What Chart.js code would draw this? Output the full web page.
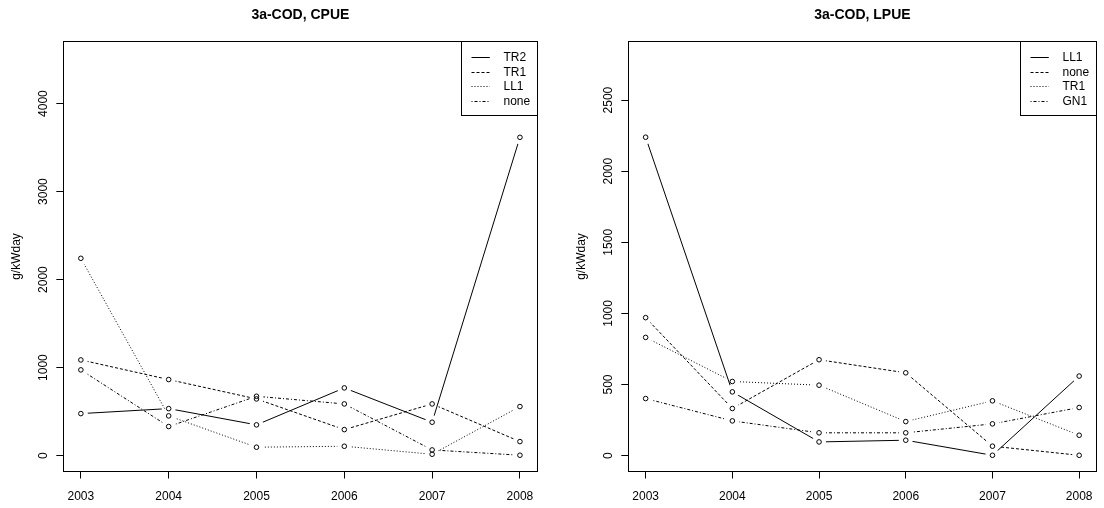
<!DOCTYPE html>
<html>
<head>
<meta charset="utf-8">
<script src="https://cdn.jsdelivr.net/npm/chart.js@4/dist/chart.umd.min.js"></script>
<style>
  body { margin: 0; background: #fff; }
  #wrap { position: relative; width: 1104px; height: 508px; background: #fff; }
  canvas { position: absolute; top: 0; }
</style>
</head>
<body>
<div id="wrap">
  <canvas id="cpue" width="552" height="508" style="left:0"></canvas>
  <canvas id="lpue" width="552" height="508" style="left:552px"></canvas>
</div>
<script>
// years on the x axis
const years = [2003, 2004, 2005, 2006, 2007, 2008];

// left panel: CPUE
const cpueNames = ['TR2', 'TR1', 'LL1', 'none'];
const cpueTR2  = [477, 534, 349, 769, 379, 3617];
const cpueTR1  = [1087, 864, 644, 295, 587, 159];
const cpueLL1  = [2242, 451, 95, 106, 15, 557];
const cpueNone = [974, 330, 674, 587, 64, 4];
const cpueTicks = [0, 1000, 2000, 3000, 4000];

// right panel: LPUE
const lpueNames = ['LL1', 'none', 'TR1', 'GN1'];
const lpueLL1  = [2239, 448, 96, 108, 2, 559];
const lpueNone = [970, 331, 674, 582, 66, 2];
const lpueTR1  = [831, 521, 495, 239, 385, 143];
const lpueGN1  = [401, 244, 160, 160, 223, 338];
const lpueTicks = [0, 500, 1000, 1500, 2000, 2500];

// R line types: solid, dashed, dotted, dotdash
const ltys = [[], [3, 2], [1, 2], [1, 2, 3, 2]];
const FONT = "'Liberation Sans', Arial, sans-serif";
const GAP = 7;

// R-ish frame, labels and legend drawn on top of the chart
const framePlugin = {
  id: 'frame',
  beforeDatasetDraw(chart, args) {
    const ds = chart.data.datasets[args.index];
    if (!ds.gap) return;
    const ctx = chart.ctx;
    ctx.save();
    ctx.beginPath();
    ctx.rect(0, 0, chart.width, chart.height);
    args.meta.data.forEach(p => {
      ctx.moveTo(p.x + GAP, p.y);
      ctx.arc(p.x, p.y, GAP, 0, Math.PI * 2);
    });
    ctx.clip('evenodd');
  },
  afterDatasetDraw(chart, args) {
    if (chart.data.datasets[args.index].gap) chart.ctx.restore();
  },
  afterDraw(chart, args, opts) {
    const ctx = chart.ctx;
    const a = chart.chartArea;
    const px = v => Math.floor(v) + 0.5;
    ctx.save();
    ctx.strokeStyle = '#000';
    ctx.fillStyle = '#000';
    ctx.lineWidth = 1;
    ctx.setLineDash([]);
    ctx.strokeRect(px(a.left), px(a.top), px(a.right) - px(a.left), px(a.bottom) - px(a.top));

    // title
    ctx.font = 'bold 14px ' + FONT;
    ctx.textAlign = 'center';
    ctx.textBaseline = 'middle';
    ctx.fillText(opts.title, (a.left + a.right) / 2, 15);

    // y tick labels, rotated like R
    const ys = chart.scales.y;
    ctx.font = '12px ' + FONT;
    ys.ticks.forEach(t => {
      ctx.save();
      ctx.translate(a.left - 19.5, ys.getPixelForValue(t.value));
      ctx.rotate(-Math.PI / 2);
      ctx.fillText(String(t.value), 0, 0);
      ctx.restore();
    });
    // y axis title
    ctx.save();
    ctx.translate(a.left - 46.5, (a.top + a.bottom) / 2);
    ctx.rotate(-Math.PI / 2);
    ctx.fillText('g/kWday', 0, 0);
    ctx.restore();

    // legend box
    const lw = 75.8, lh = 73.8;
    const lx = px(a.right - lw), ly = px(a.top);
    ctx.strokeRect(lx, ly, px(a.right) - lx, px(a.top + lh) - ly);
    ctx.textAlign = 'left';
    opts.names.forEach((name, i) => {
      const y = Math.round(a.top + 15.5 + i * 14.5) + 0.5;
      ctx.setLineDash(ltys[i]);
      ctx.beginPath();
      ctx.moveTo(lx + 10, y);
      ctx.lineTo(lx + 28.3, y);
      ctx.stroke();
      ctx.setLineDash([]);
      ctx.fillText(name, lx + 42, y);
    });
    ctx.restore();
  }
};

function makeChart(id, title, names, series, yTicks, yMin, yMax, leftW, rightPad) {
  const datasets = [];
  series.forEach((vals, i) => {
    const pts = years.map((x, j) => ({ x: x, y: vals[j] }));
    datasets.push({
      label: names[i],
      data: pts,
      gap: true,
      borderColor: '#000',
      borderWidth: 1,
      borderDash: ltys[i],
      pointRadius: 0,
      tension: 0
    });
    datasets.push({
      label: '',
      data: pts,
      showLine: false,
      pointRadius: 2.3,
      pointBorderWidth: 1,
      pointBorderColor: '#000',
      pointBackgroundColor: 'rgba(0,0,0,0)'
    });
  });

  return new Chart(document.getElementById(id), {
    type: 'line',
    data: { datasets: datasets },
    options: {
      responsive: false,
      animation: false,
      devicePixelRatio: 1,
      layout: { padding: { top: 41.5, right: rightPad, left: 0, bottom: 0 } },
      plugins: {
        legend: { display: false },
        tooltip: { enabled: false },
        title: { display: false },
        frame: { title: title, names: names }
      },
      scales: {
        x: {
          type: 'linear',
          min: 2002.8,
          max: 2008.2,
          afterBuildTicks: s => { s.ticks = years.map(v => ({ value: v })); },
          afterFit: s => { s.height = 36.5; },
          border: { display: false },
          grid: { drawOnChartArea: false, drawTicks: true, tickLength: 7, color: '#000' },
          ticks: {
            autoSkip: false,
            maxRotation: 0,
            padding: 11.3,
            color: '#000',
            font: { family: FONT, size: 12 },
            callback: v => String(v)
          }
        },
        y: {
          type: 'linear',
          min: yMin,
          max: yMax,
          afterBuildTicks: s => { s.ticks = yTicks.map(v => ({ value: v })); },
          afterFit: s => { s.width = leftW; },
          border: { display: false },
          grid: { drawOnChartArea: false, drawTicks: true, tickLength: 7, color: '#000' },
          ticks: { display: false }
        }
      }
    },
    plugins: [framePlugin]
  });
}

makeChart('cpue', '3a-COD, CPUE', cpueNames,
  [cpueTR2, cpueTR1, cpueLL1, cpueNone], cpueTicks, -181, 4706, 63.3, 14.5);
makeChart('lpue', '3a-COD, LPUE', lpueNames,
  [lpueLL1, lpueNone, lpueTR1, lpueGN1], lpueTicks, -112, 2912, 76.3, 2.2);
</script>
</body>
</html>
